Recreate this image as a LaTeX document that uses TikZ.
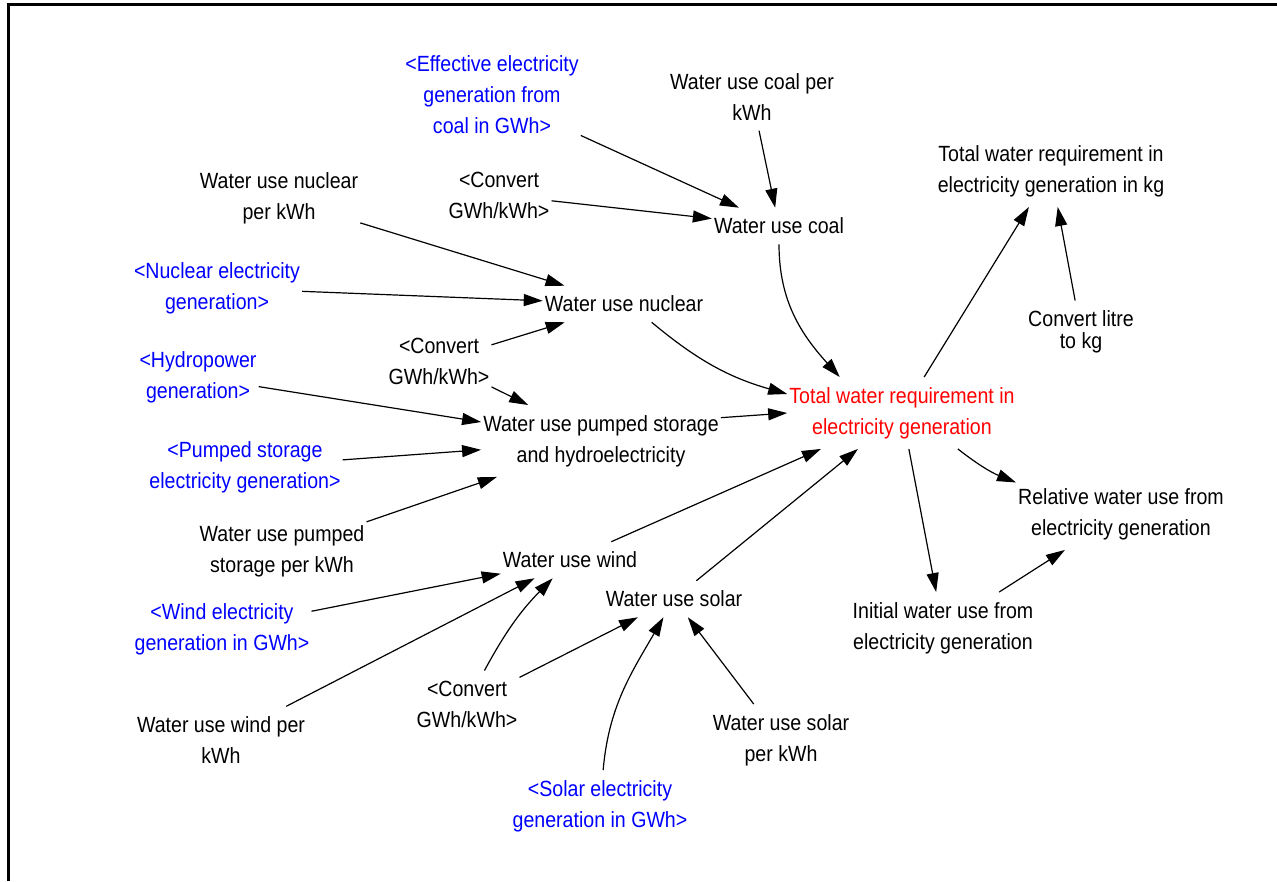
\documentclass[tikz,border=0pt]{standalone}
\usepackage{fontspec}
\setmainfont{Liberation Sans}[FakeStretch=0.89]
\usetikzlibrary{arrows.meta}
\begin{document}
\begin{tikzpicture}[x=1pt,y=1pt,
  v/.style={align=center, inner xsep=2pt, inner ysep=10pt, font=\fontsize{22}{31}\selectfont},
  sh/.style={v, text=blue},
  lk/.style={draw, line width=1.2pt, -{Triangle[length=19pt,width=12pt]}}]
\useasboundingbox (0,0) rectangle (1277,881);
\draw[line width=3.3pt] (8.3,0) -- (8.3,876.7) -- (1277,876.7);

\node[sh] (effcoal) at (492,786) {<Effective electricity\\generation from\\coal in GWh>};
\node[v] (wucpk) at (752,784) {Water use coal per\\kWh};
\node[v] (conv1) at (499,686) {<Convert\\GWh/kWh>};
\node[v] (coal) at (779,655) {Water use coal};
\node[v] (wunpk) at (279,683) {Water use nuclear\\per kWh};
\node[sh] (nucgen) at (217,593) {<Nuclear electricity\\generation>};
\node[v] (nuclear) at (624,577) {Water use nuclear};
\node[v] (conv2) at (439,520) {<Convert\\GWh/kWh>};
\node[sh] (hydro) at (198,504) {<Hydropower\\generation>};
\node[v] (pumped) at (601,440) {Water use pumped storage\\and hydroelectricity};
\node[sh] (pumpgen) at (245,414) {<Pumped storage\\electricity generation>};
\node[v] (wupspk) at (282,330) {Water use pumped\\storage per kWh};
\node[v] (wind) at (570,321) {Water use wind};
\node[v] (solar) at (674,282) {Water use solar};
\node[sh] (windgen) at (222,252) {<Wind electricity\\generation in GWh>};
\node[v] (conv3) at (467,177) {<Convert\\GWh/kWh>};
\node[v] (wuwpk) at (221,141) {Water use wind per\\kWh};
\node[v] (wuspk) at (781,141) {Water use solar\\per kWh};
\node[sh] (solargen) at (600,75) {<Solar electricity\\generation in GWh>};
\node[v, text=red] (total) at (902,468) {Total water requirement in\\electricity generation};
\node[v] (totkg) at (1051,710) {Total water requirement in\\electricity generation in kg};
\node[v, font=\fontsize{22}{22}\selectfont] (convl) at (1081,549) {Convert litre\\to kg};
\node[v] (rel) at (1121,367) {Relative water use from\\electricity generation};
\node[v] (init) at (943,253) {Initial water use from\\electricity generation};

\draw[lk] (effcoal) -- (coal);
\draw[lk] (wucpk) -- (coal);
\draw[lk] (conv1) -- (coal);
\draw[lk] (wunpk) -- (nuclear);
\draw[lk] (nucgen) -- (nuclear);
\draw[lk] (conv2) -- (nuclear);
\draw[lk] (conv2) -- (pumped);
\draw[lk] (hydro) -- (pumped);
\draw[lk] (pumpgen) -- (pumped);
\draw[lk] (wupspk) -- (pumped);
\draw[lk] (coal.south) to[out=-90,in=132] (total.150);
\draw[lk] (nuclear) to[bend right=12] (total);
\draw[lk] (pumped.11) -- (total.west);
\draw[lk] (wind) -- (total);
\draw[lk] (solar) -- (total);
\draw[lk] (windgen) -- (wind);
\draw[lk] (wuwpk) -- (wind);
\draw[lk] (conv3) to[bend left=8] (wind);
\draw[lk] (conv3) -- (solar);
\draw[lk] (solargen) to[out=85,in=-120] (solar);
\draw[lk] (wuspk) -- (solar);
\draw[lk] (total) -- (totkg);
\draw[lk] (convl) -- (totkg);
\draw[lk] (total) -- (init);
\draw[lk] (total) to[bend right=8] (rel);
\draw[lk] (init) -- (rel);
\end{tikzpicture}
\end{document}
